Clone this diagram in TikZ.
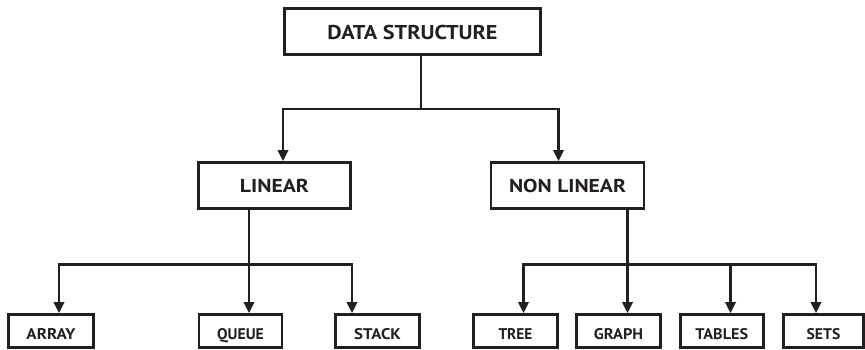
\documentclass[tikz,border=0pt]{standalone}
\usepackage{fontspec}
\setmainfont{PT Sans}
\usetikzlibrary{arrows.meta}
\definecolor{ink}{HTML}{231F20}
\newcommand\lbl[4]{\raisebox{#4}[#3][0pt]{\resizebox{#1}{#3}{\bfseries #2}}}
\begin{document}
\begin{tikzpicture}[x=1pt,y=-1pt,
  box/.style={draw=ink,line width=2.8pt,rectangle,inner sep=0pt,text=ink},
  conn/.style={draw=ink,line width=2.2pt},
  arr/.style={conn,-{Triangle[length=11pt,width=10.5pt]}}]
\useasboundingbox (0,0) rectangle (865,350);
% top
\node[box,minimum width=256pt,minimum height=46pt] (ds) at (412.5,31.5) {\lbl{170pt}{DATA STRUCTURE}{14.3pt}{-0.7pt}};
% second level
\node[box,minimum width=152pt,minimum height=46pt] (lin) at (274.5,185.5) {\lbl{69pt}{LINEAR}{13.3pt}{-0.5pt}};
\node[box,minimum width=153pt,minimum height=46pt] (nonlin) at (567.5,185.5) {\lbl{117pt}{NON LINEAR}{13.3pt}{-0.5pt}};
% bottom level
\node[box,minimum width=85pt,minimum height=33pt] (array) at (51,331) {\lbl{49pt}{ARRAY}{11pt}{-2.5pt}};
\node[box,minimum width=83pt,minimum height=33pt] (queue) at (240.5,331) {\lbl{46.7pt}{QUEUE}{11pt}{-2.5pt}};
\node[box,minimum width=84pt,minimum height=33pt] (stack) at (377.5,331) {\lbl{46.7pt}{STACK}{11pt}{-2.5pt}};
\node[box,minimum width=84pt,minimum height=33pt] (tree) at (515.5,331) {\lbl{34pt}{TREE}{11pt}{-2.5pt}};
\node[box,minimum width=84pt,minimum height=33pt] (graph) at (618.5,331) {\lbl{49.3pt}{GRAPH}{11pt}{-2.5pt}};
\node[box,minimum width=83pt,minimum height=33pt] (tables) at (721.8,331) {\lbl{52.7pt}{TABLES}{11pt}{-2.5pt}};
\node[box,minimum width=80pt,minimum height=33pt] (sets) at (823.5,331) {\lbl{33.7pt}{SETS}{11pt}{-2.5pt}};
% junctions
\coordinate (j0) at (421,109);
\coordinate (j0l) at (283,109);
\coordinate (j0r) at (558.5,109);
\coordinate (j1) at (249,264.5);
\coordinate (j1l) at (59,264.5);
\coordinate (j1r) at (352,264.5);
\coordinate (j2) at (627.5,264.5);
\coordinate (j2l) at (523.5,264.5);
\coordinate (j2a) at (730.5,264.5);
\coordinate (j2r) at (816,264.5);
% connectors level 1
\draw[conn] (ds.south -| j0) -- (j0);
\draw[conn,line cap=rect] (j0l) -- (j0r);
\draw[arr] (j0l) -- (j0l |- lin.north);
\draw[arr] (j0r) -- (j0r |- nonlin.north);
% linear children
\draw[conn] (lin.south -| j1) -- (j1);
\draw[conn,line cap=rect] (j1l) -- (j1r);
\draw[arr] (j1l) -- (j1l |- array.north);
\draw[arr] (j1) -- (j1 |- queue.north);
\draw[arr] (j1r) -- (j1r |- stack.north);
% non linear children
\draw[conn] (nonlin.south -| j2) -- (j2);
\draw[conn,line cap=rect] (j2l) -- (j2r);
\draw[arr] (j2l) -- (j2l |- tree.north);
\draw[arr] (j2) -- (j2 |- graph.north);
\draw[arr] (j2a) -- (j2a |- tables.north);
\draw[arr] (j2r) -- (j2r |- sets.north);
\end{tikzpicture}
\end{document}
